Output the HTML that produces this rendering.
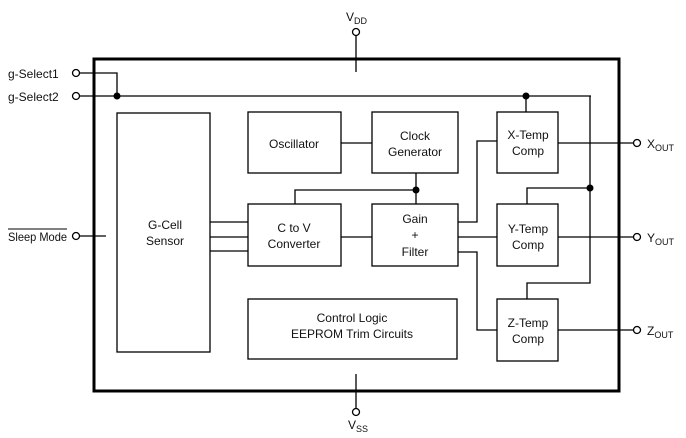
<!DOCTYPE html>
<html><head><style>body{margin:0;background:#fff}svg{display:block}text{font-family:"Liberation Sans",Arial,sans-serif;font-size:12px;fill:#111}</style></head><body>
<svg width="686" height="438" viewBox="0 0 686 438" xmlns="http://www.w3.org/2000/svg">
<g fill="none" stroke="#000" stroke-width="1.3">
<rect x="94" y="59" width="525" height="332" stroke-width="3"/>
<rect x="117" y="113" width="93" height="239"/>
<rect x="248" y="112" width="93" height="61"/>
<rect x="372" y="112" width="86" height="61"/>
<rect x="248" y="204" width="93" height="62"/>
<rect x="372" y="204" width="86" height="62"/>
<rect x="248" y="299" width="209" height="60"/>
<rect x="497" y="112" width="61" height="61"/>
<rect x="497" y="204" width="61" height="62"/>
<rect x="497" y="299" width="61" height="62"/>
<path d="M80 73H117V96M80 96H591M526 96V112M590 96V283H527V299M590 188H527V204"/>
<path d="M341 143H372M416 173V204M416 190H295V204M210 222H248M210 237H248M210 251H248M341 237H372"/>
<path d="M458 222H477V141H497M458 237H497M458 252H477V330H497"/>
<path d="M558 143H633M558 237H633M558 330H633"/>
<path d="M80 236H106M356 36V72M356 374V408"/>
<circle cx="76" cy="73" r="3.5"/><circle cx="76" cy="96" r="3.5"/><circle cx="76" cy="236" r="3.5"/>
<circle cx="637" cy="143" r="3.5"/><circle cx="637" cy="237" r="3.5"/><circle cx="637" cy="330" r="3.5"/>
<circle cx="356" cy="32" r="3.5"/><circle cx="356" cy="412" r="3.5"/>
<path d="M8 229H67" stroke-width="1"/>
</g>
<g fill="#000"><circle cx="117" cy="96" r="3.5"/><circle cx="526" cy="96" r="3.5"/><circle cx="416" cy="190" r="3.5"/><circle cx="590" cy="188" r="3.5"/></g>
<text x="8" y="78">g-Select1</text><text x="8" y="101">g-Select2</text><text x="8" y="241" textLength="59" lengthAdjust="spacingAndGlyphs">Sleep Mode</text>
<text x="346" y="21">V<tspan font-size="9" dy="3">DD</tspan></text>
<text x="348" y="429">V<tspan font-size="9" dy="3">SS</tspan></text>
<text x="647" y="148">X<tspan font-size="9" dy="3">OUT</tspan></text>
<text x="647" y="242">Y<tspan font-size="9" dy="3">OUT</tspan></text>
<text x="647" y="335">Z<tspan font-size="9" dy="3">OUT</tspan></text>
<g text-anchor="middle">
<text x="165" y="229">G-Cell</text><text x="165" y="245">Sensor</text>
<text x="294" y="148">Oscillator</text>
<text x="415" y="140">Clock</text><text x="415" y="156">Generator</text>
<text x="294" y="232">C to V</text><text x="294" y="248">Converter</text>
<text x="415" y="223">Gain</text><text x="415" y="239">+</text><text x="415" y="256">Filter</text>
<text x="352" y="322">Control Logic</text><text x="352" y="338">EEPROM Trim Circuits</text>
<text x="528" y="139">X-Temp</text><text x="528" y="155">Comp</text>
<text x="528" y="233">Y-Temp</text><text x="528" y="249">Comp</text>
<text x="528" y="327">Z-Temp</text><text x="528" y="343">Comp</text>
</g>
</svg></body></html>
